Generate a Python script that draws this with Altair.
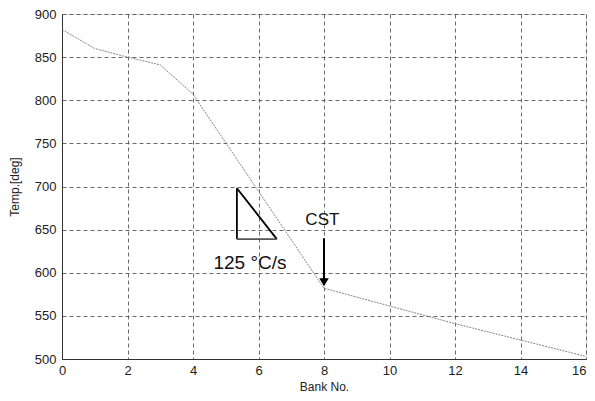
import altair as alt
import pandas as pd

bank = [0, 1, 2, 3, 4, 8, 12, 16]
temp = [882, 860, 850, 841, 807, 582, 541, 503]

x_ticks = [0, 2, 4, 6, 8, 10, 12, 14, 16]
y_ticks = [500, 550, 600, 650, 700, 750, 800, 850, 900]

# triangle annotation (data coordinates)
tri_x = [5.34, 5.34, 6.56]
tri_y = [698, 639, 639]
rate_label = ["125 °C/s"]
cst_label = ["CST"]
cst_x = [8]
cst_y_from = [640]
cst_y_to = [584]

df = pd.DataFrame({"bank": bank, "temp": temp})

xs = alt.Scale(domain=[0, 16], nice=False, zero=False)
ys = alt.Scale(domain=[500, 900], nice=False, zero=False)

base_font = "Liberation Sans"

line = alt.Chart(df).mark_line(color="#777777", strokeWidth=0.9, strokeDash=[2, 1]).encode(
    x=alt.X("bank:Q", scale=xs,
            axis=alt.Axis(values=x_ticks, title="Bank No.", grid=True,
                          gridDash=[4, 3], gridColor="#444444", gridWidth=0.8,
                          ticks=False, domain=True, domainColor="#333333",
                          labelFlush=False,
                          labelAlign={"expr": "datum.value == 16 ? 'right' : 'center'"},
                          labelFont=base_font, labelFontSize=13, labelColor="#222222",
                          labelPadding=5, titleFont=base_font, titleFontSize=12,
                          titleFontWeight="normal", titleColor="#222222", titlePadding=4)),
    y=alt.Y("temp:Q", scale=ys,
            axis=alt.Axis(values=y_ticks, title="Temp.[deg]", grid=True,
                          gridDash=[4, 3], gridColor="#444444", gridWidth=0.8,
                          ticks=False, domain=True, domainColor="#333333",
                          labelFlush=False,
                          labelFont=base_font, labelFontSize=13, labelColor="#222222",
                          labelPadding=6, titleFont=base_font, titleFontSize=12,
                          titleFontWeight="normal", titleColor="#222222", titlePadding=13)),
)

seg_df = pd.DataFrame({
    "x": [tri_x[0], tri_x[0], tri_x[1]],
    "y": [tri_y[0], tri_y[0], tri_y[1]],
    "x2": [tri_x[1], tri_x[2], tri_x[2]],
    "y2": [tri_y[1], tri_y[2], tri_y[2]],
    "kind": ["v", "h", "b"],
})

tri = alt.Chart(seg_df).mark_rule(strokeWidth=1.8).encode(
    x=alt.X("x:Q", scale=xs), y=alt.Y("y:Q", scale=ys),
    x2="x2:Q", y2="y2:Q",
    color=alt.Color("kind:N", scale=alt.Scale(domain=["v", "h", "b"],
                                              range=["#000000", "#000000", "#555555"]),
                    legend=None),
)

rate_df = pd.DataFrame({"x": [5.74], "y": [604], "t": rate_label})
rate = alt.Chart(rate_df).mark_text(font=base_font, fontSize=19, color="#111111",
                                    align="center", baseline="alphabetic").encode(
    x=alt.X("x:Q", scale=xs), y=alt.Y("y:Q", scale=ys), text="t:N")

cst_df = pd.DataFrame({"x": [7.95], "y": [655], "t": cst_label})
cst = alt.Chart(cst_df).mark_text(font=base_font, fontSize=17, color="#111111",
                                  align="center", baseline="alphabetic").encode(
    x=alt.X("x:Q", scale=xs), y=alt.Y("y:Q", scale=ys), text="t:N")

arr_df = pd.DataFrame({"x": cst_x, "y": cst_y_from, "y2": [cst_y_to[0] + 8]})
arrow = alt.Chart(arr_df).mark_rule(color="#000000", strokeWidth=2).encode(
    x=alt.X("x:Q", scale=xs), y=alt.Y("y:Q", scale=ys), y2="y2:Q")

head_df = pd.DataFrame({"x": cst_x, "y": [cst_y_to[0] + 5]})
head = alt.Chart(head_df).mark_point(shape="triangle-down", filled=True, color="#000000",
                                     size=90, opacity=1).encode(
    x=alt.X("x:Q", scale=xs), y=alt.Y("y:Q", scale=ys))

chart = alt.layer(line, tri, arrow, head, rate, cst).properties(
    width=524, height=345,
    autosize=alt.AutoSizeParams(type="none"),
    padding={"left": 54, "top": 6, "right": 1, "bottom": 34},
).configure_view(stroke="#333333", strokeWidth=1.2).configure(background="white")

chart.save("out.html", embed_options={"renderer": "svg", "actions": False})
